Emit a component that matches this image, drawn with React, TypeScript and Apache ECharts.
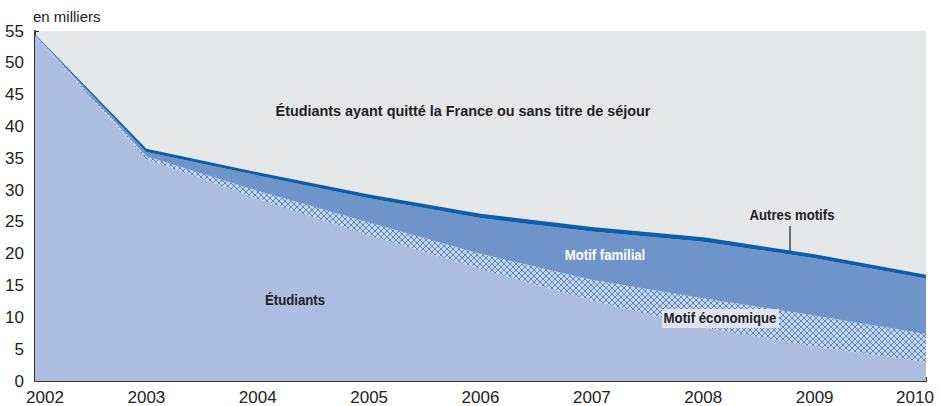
import React, { useEffect, useRef } from "react";
import * as echarts from "echarts";

const years = ["2002", "2003", "2004", "2005", "2006", "2007", "2008", "2009", "2010"];
const etudiants = [54.3, 34.9, 28.6, 22.9, 17.6, 12.6, 8.4, 5.4, 3.0];
const economique = [0.1, 0.4, 1.3, 2.0, 2.4, 3.3, 4.6, 4.9, 4.4];
const familial = [0.0, 0.7, 2.4, 3.8, 5.6, 7.6, 8.9, 9.0, 8.7];
const autres = [0.1, 0.5, 0.5, 0.6, 0.7, 0.7, 0.7, 0.6, 0.6];

const FONT = "'Liberation Sans', Arial, sans-serif";

function hatchPattern(): string {
  const svg =
    "<svg xmlns='http://www.w3.org/2000/svg' width='6' height='6'>" +
    "<rect width='6' height='6' fill='#c8d4ec'/>" +
    "<path d='M0 0 L6 6 M6 0 L0 6' stroke='#5088c8' stroke-width='1'/>" +
    "</svg>";
  return "data:image/svg+xml;charset=utf-8," + encodeURIComponent(svg);
}

export default function App() {
  const ref = useRef<HTMLDivElement>(null);
  useEffect(() => {
    document.body.style.margin = "0";
    if (!ref.current) return;
    const chart = echarts.init(ref.current, undefined, { renderer: "svg" });
    const pattern: any = { image: hatchPattern(), repeat: "repeat" };
    const mk = (name: string, data: number[], color: any) => ({
      name,
      type: "line",
      stack: "total",
      data,
      symbol: "none",
      lineStyle: { width: 0 },
      areaStyle: { color, opacity: 1 },
      z: 2,
    });
    const label = (text: string, x: number, y: number, fill: string, sx = 0.88) => ({
      type: "text",
      x,
      y,
      z: 100,
      scaleX: sx,
      style: { text, font: `bold 15px ${FONT}`, fill, align: "center", verticalAlign: "middle" },
    });
    const first = years[0];
    const last = years[years.length - 1];
    chart.setOption({
      animation: false,
      textStyle: { fontFamily: FONT },
      grid: {
        left: 35,
        right: 14,
        top: 31,
        bottom: 24,
        show: true,
        backgroundColor: "#e6e7e9",
        borderWidth: 0,
      },
      xAxis: {
        type: "category",
        data: years,
        boundaryGap: false,
        axisLine: { lineStyle: { color: "#333", width: 2 } },
        axisTick: { inside: true, length: 4, lineStyle: { color: "#333" } },
        axisLabel: {
          color: "#222",
          fontSize: 17,
          fontFamily: FONT,
          margin: 8,
          showMaxLabel: true,
          showMinLabel: true,
          formatter: (v: string) => (v === first ? `{f|${v}}` : v === last ? `{l|${v}}` : v),
          rich: {
            f: { fontSize: 17, fontFamily: FONT, color: "#222", padding: [0, 0, 0, 20] },
            l: { fontSize: 17, fontFamily: FONT, color: "#222", padding: [0, 22, 0, 0] },
          },
        },
        splitLine: { show: false },
      },
      yAxis: {
        type: "value",
        min: 0,
        max: 55,
        interval: 5,
        axisLine: { show: true, lineStyle: { color: "#333", width: 2 } },
        axisTick: { show: true, inside: true, length: 4, lineStyle: { color: "#333" } },
        axisLabel: { color: "#222", fontSize: 17, fontFamily: FONT, margin: 11 },
        splitLine: { show: false },
      },
      series: [
        mk("Étudiants", etudiants, "#adbde0"),
        mk("Motif économique", economique, pattern),
        mk("Motif familial", familial, "#6f94c9"),
        mk("Autres motifs", autres, "#0b5eaa"),
      ],
      graphic: [
        { type: "text", x: 33, y: 9, z: 100, style: { text: "en milliers", font: `15px ${FONT}`, fill: "#222" } },
        label("Étudiants ayant quitté la France ou sans titre de séjour", 463, 111, "#222", 0.96),
        label("Étudiants", 295, 300, "#222"),
        label("Motif familial", 605, 255, "#ffffff"),
        { type: "rect", z: 99, shape: { x: 662, y: 309, width: 117, height: 19 }, style: { fill: "#dfe5f2" } },
        label("Motif économique", 720, 318, "#222"),
        label("Autres motifs", 792, 215, "#222"),
        { type: "line", z: 100, shape: { x1: 790, y1: 226, x2: 790, y2: 251 }, style: { stroke: "#222", lineWidth: 1.2 } },
      ],
    });
    return () => chart.dispose();
  }, []);
  return <div ref={ref} style={{ width: 940, height: 406 }} />;
}
